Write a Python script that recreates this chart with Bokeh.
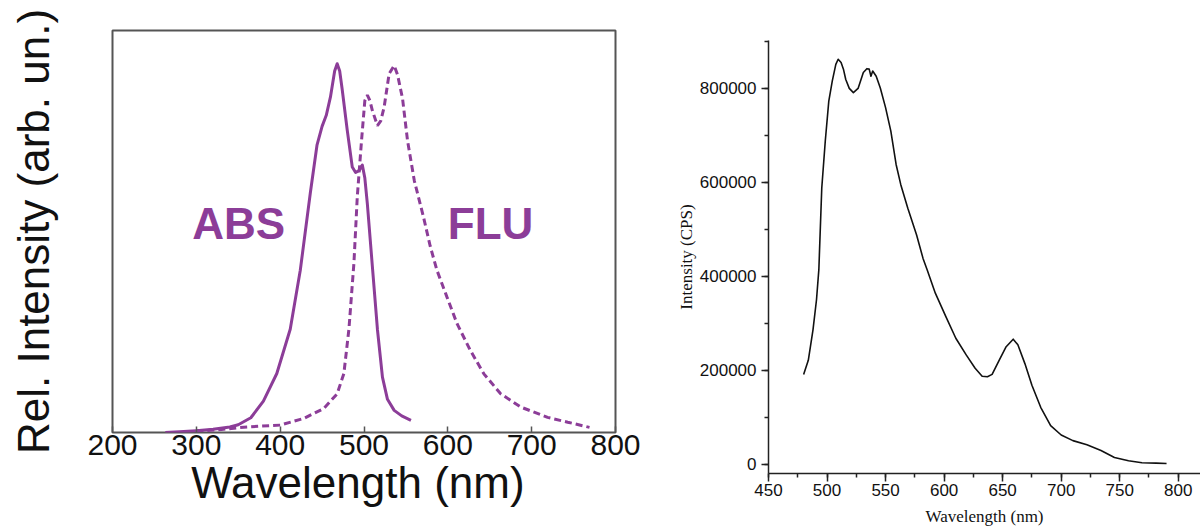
from bokeh.plotting import figure
from bokeh.layouts import row, column
from bokeh.models import Range1d, FixedTicker, Label, SingleIntervalTicker, NumeralTickFormatter
from bokeh.embed import file_html
from bokeh.resources import INLINE

# ---- Left panel: absorption (solid) and fluorescence (dashed), relative units
abs_wl = [263, 280, 300, 320, 340, 350, 365, 380, 396, 412, 424, 436, 444, 450, 455, 460, 465, 468, 471, 474,
          480, 486, 490, 494, 498, 501, 504, 510, 516, 522, 528, 536, 545, 556]
abs_int = [0.0, 0.002, 0.005, 0.009, 0.015, 0.021, 0.04, 0.085, 0.16, 0.28, 0.44, 0.65, 0.78, 0.83, 0.86, 0.91,
           0.98, 1.0, 0.98, 0.93, 0.82, 0.72, 0.705, 0.71, 0.725, 0.69, 0.62, 0.45, 0.28, 0.15, 0.09, 0.06, 0.045, 0.033]
flu_wl = [300, 330, 350, 375, 400, 428, 452, 468, 476, 482, 488, 492, 497, 501, 504, 507, 510, 516, 520, 524,
          530, 536, 540, 546, 552, 560, 571, 579, 587, 599, 611, 627, 643, 663, 687, 719, 743, 769]
flu_int = [0.004, 0.008, 0.013, 0.017, 0.02, 0.038, 0.065, 0.105, 0.16, 0.28, 0.46, 0.64, 0.79, 0.9, 0.915, 0.9,
           0.873, 0.832, 0.845, 0.882, 0.973, 0.995, 0.97, 0.905, 0.79, 0.683, 0.584, 0.505, 0.44, 0.367, 0.295,
           0.222, 0.159, 0.105, 0.069, 0.041, 0.028, 0.014]
left_x_ticks = [200, 300, 400, 500, 600, 700, 800]

# ---- Right panel: emission spectrum in counts per second
pl_wl = [480, 484, 488, 491, 493, 495.5, 498.5, 501.5, 504.5, 507.5, 509.5, 512, 514, 516, 519, 522.5, 526.5, 531,
         534, 536, 537.5, 539, 542, 545.5, 550, 554.5, 559, 563, 569, 576.5, 582, 585.5, 592.5, 601.5, 610, 619,
         626.5, 632.5, 637, 641, 647, 653, 659, 663, 669, 675, 682.5, 691, 700, 710, 722, 734, 745.5, 757.5, 769,
         781, 790]
pl_cps = [191000, 221000, 286000, 350000, 414000, 588000, 688000, 773000, 816000, 851000, 862000, 855000, 841000,
          819000, 800000, 791000, 800000, 834000, 842000, 841000, 826000, 837000, 826000, 801000, 759000, 709000,
          638000, 595000, 545000, 488000, 438000, 414000, 364000, 314000, 268000, 232000, 204000, 187000, 186000,
          191000, 221000, 250000, 266000, 254000, 214000, 168000, 121000, 82000, 62000, 50000, 41000, 29000, 14000,
          7000, 3000, 2000, 1400]

PURPLE = "#8c3d98"
SANS = "Liberation Sans"
SERIF = "Liberation Serif"

# ================= Left figure =================
p1 = figure(width=660, height=531, x_range=Range1d(200, 800), y_range=Range1d(0, 1.09),
            title=None, toolbar_location=None, output_backend="svg",
            min_border_left=112, min_border_right=45, min_border_top=30, min_border_bottom=99)
p1.line(abs_wl, abs_int, line_color=PURPLE, line_width=3, line_join="round")
p1.line(flu_wl, flu_int, line_color=PURPLE, line_width=3, line_dash="7 4")
p1.grid.visible = False
p1.outline_line_color = "#555555"
p1.outline_line_width = 2
p1.outline_line_alpha = 1

xa = p1.xaxis[0]
xa.ticker = FixedTicker(ticks=left_x_ticks)
xa.axis_line_color = None
xa.major_tick_in = 6
xa.major_tick_out = 0
xa.minor_tick_in = 0
xa.minor_tick_out = 0
xa.major_tick_line_color = "#555555"
xa.major_tick_line_width = 1.5
xa.major_label_text_font = SANS
xa.major_label_text_font_size = "30px"
xa.major_label_text_color = "#111111"
xa.major_label_standoff = 2
xa.axis_label = "Wavelength  (nm)"
xa.axis_label_text_font = SANS
xa.axis_label_text_font_size = "44px"
xa.axis_label_text_font_style = "normal"
xa.axis_label_text_color = "#111111"
xa.axis_label_standoff = 0

ya = p1.yaxis[0]
ya.ticker = FixedTicker(ticks=[])
ya.axis_line_color = None
ya.major_tick_in = 0
ya.major_tick_out = 0
ya.minor_tick_in = 0
ya.minor_tick_out = 0
ya.major_label_standoff = 0
ya.axis_label = "Rel. Intensity (arb. un.)"
ya.axis_label_text_font = SANS
ya.axis_label_text_font_size = "44px"
ya.axis_label_text_font_style = "normal"
ya.axis_label_text_color = "#111111"
ya.axis_label_standoff = 55

p1.add_layout(Label(x=295, y=0.567, text="ABS", text_font=SANS, text_font_style="bold",
                    text_font_size="44px", text_color=PURPLE, text_align="left", text_baseline="alphabetic"))
p1.add_layout(Label(x=600, y=0.567, text="FLU", text_font=SANS, text_font_style="bold",
                    text_font_size="44px", text_color=PURPLE, text_align="left", text_baseline="alphabetic"))

# ================= Right figure =================
p2 = figure(width=540, height=531, x_range=Range1d(450, 819), y_range=Range1d(-20000, 902000),
            title=None, toolbar_location=None, output_backend="svg",
            min_border_left=108, min_border_right=0, min_border_top=40, min_border_bottom=58)
p2.line(pl_wl, pl_cps, line_color="#111111", line_width=1.6, line_join="round")
p2.grid.visible = False
p2.outline_line_color = None

xb = p2.xaxis[0]
xb.ticker = SingleIntervalTicker(interval=50, num_minor_ticks=2)
xb.axis_line_color = "#222222"
xb.axis_line_width = 1.5
xb.major_tick_in = 0
xb.major_tick_out = 8
xb.minor_tick_in = 0
xb.minor_tick_out = 4
xb.major_tick_line_color = "#222222"
xb.minor_tick_line_color = "#222222"
xb.major_tick_line_width = 1.5
xb.minor_tick_line_width = 1.5
xb.major_label_text_font = SANS
xb.major_label_text_font_size = "17px"
xb.major_label_text_color = "#111111"
xb.major_label_standoff = 2
xb.axis_label = "Wavelength (nm)"
xb.axis_label_text_font = SERIF
xb.axis_label_text_font_size = "17px"
xb.axis_label_text_font_style = "normal"
xb.axis_label_text_color = "#111111"
xb.axis_label_standoff = 8

yb = p2.yaxis[0]
yb.ticker = SingleIntervalTicker(interval=200000, num_minor_ticks=2)
yb.formatter = NumeralTickFormatter(format="0")
yb.axis_line_color = "#222222"
yb.axis_line_width = 1.5
yb.major_tick_in = 0
yb.major_tick_out = 7
yb.minor_tick_in = 0
yb.minor_tick_out = 4
yb.major_tick_line_color = "#222222"
yb.minor_tick_line_color = "#222222"
yb.major_tick_line_width = 1.5
yb.minor_tick_line_width = 1.5
yb.major_label_text_font = SANS
yb.major_label_text_font_size = "17px"
yb.major_label_text_color = "#111111"
yb.major_label_standoff = 5
yb.axis_label = "Intensity (CPS)"
yb.axis_label_text_font = SERIF
yb.axis_label_text_font_size = "17px"
yb.axis_label_text_font_style = "normal"
yb.axis_label_text_color = "#111111"
yb.axis_label_standoff = 1

layout = row(column(p1), column(p2))
open("out.html", "w").write(file_html(layout, INLINE))
